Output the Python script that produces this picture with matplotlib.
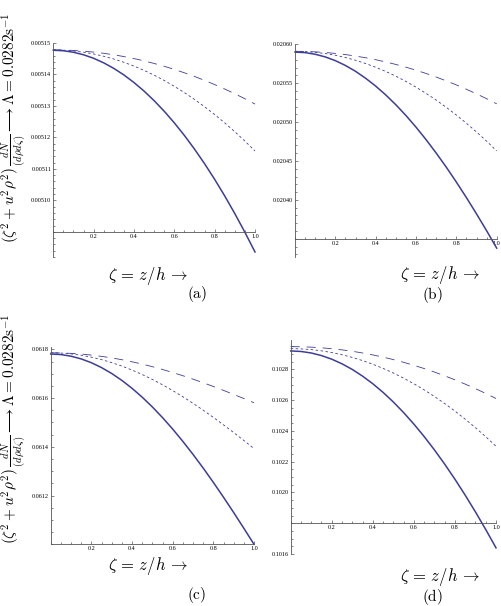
import matplotlib
matplotlib.use("Agg")
import matplotlib.pyplot as plt
from matplotlib.ticker import MultipleLocator, FormatStrFormatter

plt.rcParams['mathtext.fontset'] = 'cm'
plt.rcParams['lines.scale_dashes'] = False

# data (zeta = z/h, step 0.05)
zeta = [0.0, 0.05, 0.1, 0.15, 0.2, 0.25, 0.3, 0.35, 0.4, 0.45, 0.5,
        0.55, 0.6, 0.65, 0.7, 0.75, 0.8, 0.85, 0.9, 0.95, 1.0]

a_solid = [0.00514770, 0.00514754, 0.00514706, 0.00514626, 0.00514514, 0.00514369,
           0.00514193, 0.00513985, 0.00513744, 0.00513472, 0.00513167, 0.00512831,
           0.00512462, 0.00512062, 0.00511629, 0.00511164, 0.00510668, 0.00510139,
           0.00509578, 0.00508985, 0.00508360]
a_dash = [0.00514780, 0.00514776, 0.00514763, 0.00514741, 0.00514711, 0.00514673,
          0.00514625, 0.00514569, 0.00514505, 0.00514432, 0.00514350, 0.00514260,
          0.00514161, 0.00514053, 0.00513937, 0.00513813, 0.00513679, 0.00513537,
          0.00513387, 0.00513228, 0.00513060]
a_dot = [0.00514780, 0.00514772, 0.00514748, 0.00514708, 0.00514652, 0.00514579,
         0.00514491, 0.00514387, 0.00514266, 0.00514130, 0.00513978, 0.00513809,
         0.00513624, 0.00513424, 0.00513207, 0.00512974, 0.00512726, 0.00512461,
         0.00512180, 0.00511883, 0.00511570]

b_solid = [0.0205900, 0.0205893, 0.0205872, 0.0205838, 0.0205790, 0.0205728,
           0.0205653, 0.0205564, 0.0205463, 0.0205349, 0.0205223, 0.0205085,
           0.0204935, 0.0204774, 0.0204602, 0.0204421, 0.0204229, 0.0204029,
           0.0203820, 0.0203604, 0.0203380]
b_dash = [0.0205910, 0.0205908, 0.0205903, 0.0205895, 0.0205883, 0.0205868,
          0.0205849, 0.0205827, 0.0205802, 0.0205773, 0.0205741, 0.0205706,
          0.0205667, 0.0205625, 0.0205579, 0.0205530, 0.0205478, 0.0205422,
          0.0205363, 0.0205301, 0.0205235]
b_dot = [0.0205910, 0.0205907, 0.0205897, 0.0205881, 0.0205859, 0.0205830,
         0.0205795, 0.0205753, 0.0205705, 0.0205651, 0.0205590, 0.0205523,
         0.0205449, 0.0205369, 0.0205283, 0.0205190, 0.0205091, 0.0204985,
         0.0204873, 0.0204755, 0.0204630]

c_solid = [0.0617810, 0.0617788, 0.0617720, 0.0617609, 0.0617453, 0.0617253,
           0.0617011, 0.0616727, 0.0616403, 0.0616039, 0.0615638, 0.0615200,
           0.0614729, 0.0614224, 0.0613690, 0.0613129, 0.0612542, 0.0611932,
           0.0611304, 0.0610658, 0.0610000]
c_dash = [0.0617860, 0.0617854, 0.0617836, 0.0617807, 0.0617766, 0.0617714,
          0.0617650, 0.0617576, 0.0617491, 0.0617395, 0.0617290, 0.0617175,
          0.0617051, 0.0616919, 0.0616779, 0.0616631, 0.0616477, 0.0616317,
          0.0616152, 0.0615983, 0.0615810]
c_dot = [0.0617860, 0.0617849, 0.0617815, 0.0617759, 0.0617680, 0.0617580,
         0.0617458, 0.0617315, 0.0617152, 0.0616969, 0.0616767, 0.0616547,
         0.0616309, 0.0616056, 0.0615787, 0.0615504, 0.0615209, 0.0614902,
         0.0614586, 0.0614261, 0.0613930]

d_solid = [0.1029190, 0.1029156, 0.1029056, 0.1028888, 0.1028654, 0.1028353,
           0.1027987, 0.1027554, 0.1027058, 0.1026497, 0.1025873, 0.1025186,
           0.1024438, 0.1023630, 0.1022763, 0.1021838, 0.1020857, 0.1019821,
           0.1018732, 0.1017591, 0.1016400]
d_dash = [0.1029470, 0.1029462, 0.1029436, 0.1029394, 0.1029335, 0.1029259,
          0.1029167, 0.1029057, 0.1028931, 0.1028788, 0.1028628, 0.1028451,
          0.1028257, 0.1028046, 0.1027819, 0.1027574, 0.1027313, 0.1027035,
          0.1026740, 0.1026429, 0.1026100]
d_dot = [0.1029340, 0.1029324, 0.1029277, 0.1029197, 0.1029086, 0.1028944,
         0.1028769, 0.1028563, 0.1028326, 0.1028056, 0.1027755, 0.1027422,
         0.1027058, 0.1026661, 0.1026233, 0.1025774, 0.1025282, 0.1024759,
         0.1024205, 0.1023618, 0.1023000]

xticks = [0.2, 0.4, 0.6, 0.8, 1.0]
a_yticks = [0.00510, 0.00511, 0.00512, 0.00513, 0.00514, 0.00515]
b_yticks = [0.02040, 0.02045, 0.02050, 0.02055, 0.02060]
c_yticks = [0.0612, 0.0614, 0.0616, 0.0618]
d_yticks = [0.1016, 0.1020, 0.1022, 0.1024, 0.1026, 0.1028]

ylabel = (r'$(\zeta^2+u^2\rho^2)\,\frac{dN}{(d\rho d\zeta)}'
          r'\longrightarrow\Lambda=0.0282\mathrm{s}^{-1}$')
xlabel = r'$\zeta\,=\,z/h\,\rightarrow$'

blue = '#3d3d99'
W, H = 502, 606
fig = plt.figure(figsize=(W / 100, H / 100), dpi=100)


def panel(box, ylim, origin, yticks, yminor, fmt, solid, dash, dot):
    l, r, t, b = box
    ax = fig.add_axes([l / W, 1 - b / H, (r - l) / W, (b - t) / H])
    ax.plot(zeta, solid, color=blue, lw=1.1, clip_on=False)
    ax.plot(zeta, dash, color=blue, lw=0.6, dashes=(6.5, 5), clip_on=False)
    ax.plot(zeta, dot, color=blue, lw=0.6, dashes=(1.8, 1.8), clip_on=False)
    ax.set_xlim(0, 1.0)
    ax.set_ylim(*ylim)
    for s in ['top', 'right']:
        ax.spines[s].set_visible(False)
    ax.spines['left'].set_position(('data', 0))
    ax.spines['bottom'].set_position(('data', origin))
    for s in ['left', 'bottom']:
        ax.spines[s].set_linewidth(0.6)
        ax.spines[s].set_color('#555555')
    ax.set_xticks(xticks)
    ax.xaxis.set_minor_locator(MultipleLocator(0.05))
    ax.xaxis.set_major_formatter(FormatStrFormatter('%.1f'))
    ax.set_yticks(yticks)
    ax.yaxis.set_minor_locator(MultipleLocator(yminor))
    ax.yaxis.set_major_formatter(FormatStrFormatter(fmt))
    ax.tick_params(which='both', direction='in', color='#555555', width=0.5,
                   labelsize=4.4, pad=1.5)
    ax.tick_params(which='major', length=2.4)
    ax.tick_params(which='minor', length=1.2)
    for lab in ax.get_xticklabels() + ax.get_yticklabels():
        lab.set_family('Liberation Serif')
    ax.patch.set_visible(False)
    return ax


panel((53.3, 255, 43, 257), (0.005082, 0.00515), 0.00509, a_yticks, 0.000002,
      '%.5f', a_solid, a_dash, a_dot)
panel((295, 496.7, 44.3, 256.7), (0.020327, 0.0206), 0.02035, b_yticks, 0.00001,
      '%.5f', b_solid, b_dash, b_dot)
panel((50.7, 254, 346.7, 544.3), (0.0610, 0.061811), 0.0610, c_yticks, 0.00005,
      '%.4f', c_solid, c_dash, c_dot)
panel((290.7, 496, 340, 554), (0.1016, 0.10299), 0.1018, d_yticks, 0.00005,
      '%.4f', d_solid, d_dash, d_dot)

# axis titles and panel tags
for x, y in [(148, 276), (440, 275), (148, 566), (440, 577)]:
    fig.text(x / W, 1 - y / H, xlabel, fontsize=12, ha='center', va='center')
for x, y, tag in [(197, 294, 'a'), (432, 295, 'b'), (197, 595, 'c'), (432, 597, 'd')]:
    fig.text(x / W, 1 - y / H, r'$(\mathrm{%s})$' % tag, fontsize=11,
             ha='center', va='center')
for y in [128, 429]:
    fig.text(14.5 / W, 1 - y / H, ylabel, fontsize=11, rotation=90,
             ha='center', va='center')

fig.savefig('out.png', dpi=100)
